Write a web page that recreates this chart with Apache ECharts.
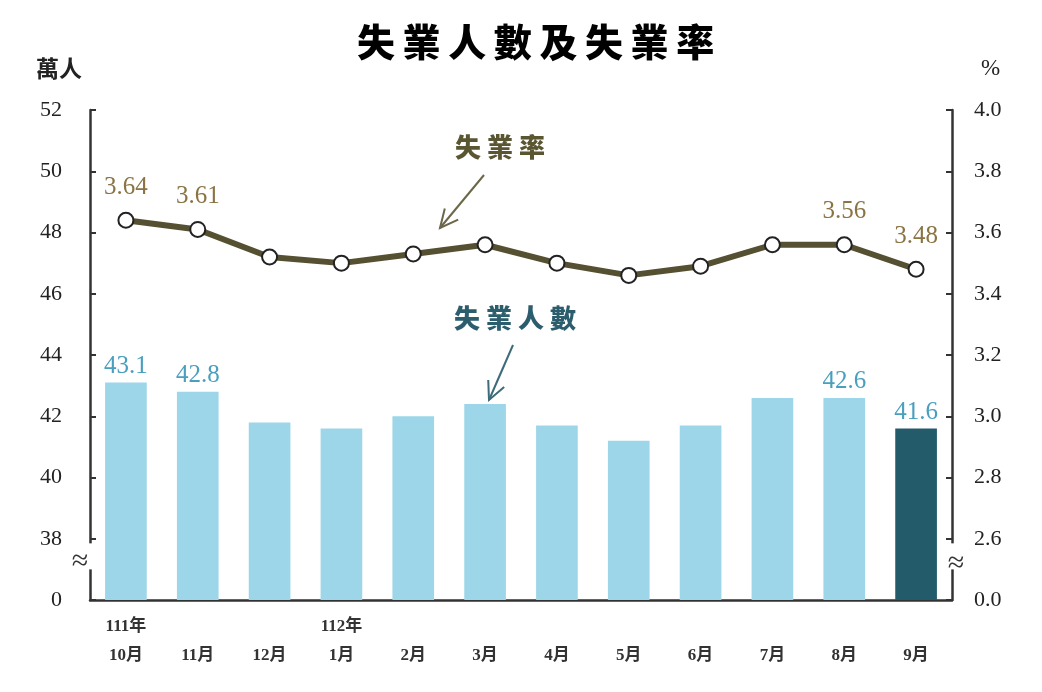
<!DOCTYPE html>
<html><head><meta charset="utf-8">
<script src="https://cdn.jsdelivr.net/npm/echarts@6/dist/echarts.min.js"></script>
<style>html,body{margin:0;padding:0;background:#fff}#c{width:1042px;height:692px}</style>
</head><body><div id="c"></div>
<script>
var years = ['111年','','','112年','','','','','','','',''];
var months = ['10月','11月','12月','1月','2月','3月','4月','5月','6月','7月','8月','9月'];
var unemployed = [43.1, 42.8, 41.8, 41.6, 42.0, 42.4, 41.7, 41.2, 41.7, 42.6, 42.6, 41.6];
var rate = [3.64, 3.61, 3.52, 3.50, 3.53, 3.56, 3.50, 3.46, 3.49, 3.56, 3.56, 3.48];
var labelIdx = [0, 1, 10, 11];
var leftTicks = ['0','38','40','42','44','46','48','50','52'];
var rightTicks = ['0.0','2.6','2.8','3.0','3.2','3.4','3.6','3.8','4.0'];

var serif = '"Liberation Serif","Noto Sans CJK TC",serif';
var cats = months.map(function(m, i){ return '{y|' + (years[i] || ' ') + '}\n{m|' + m + '}'; });

var chart = echarts.init(document.getElementById('c'));
var barData = unemployed.map(function(v, i){
  return {value: v, itemStyle: {color: i === unemployed.length - 1 ? '#245b6b' : '#9dd6e9'},
    label: {show: labelIdx.indexOf(i) >= 0}};
});
var lineData = rate.map(function(v, i){ return {value: v, label: {show: labelIdx.indexOf(i) >= 0}}; });

var option = {
  animation: false,
  title: {text: '失\u2009業\u2009人\u2009數\u2009及\u2009失\u2009業\u2009率', left: 352, top: 18,
    textStyle: {fontFamily: '"Noto Sans CJK TC"', fontWeight: 900, fontSize: 38, color: '#000'}},
  grid: {left: 90, right: 90, top: 110, bottom: 92},
  xAxis: {type: 'category', data: cats,
    axisLine: {lineStyle: {color: '#333', width: 2.5}},
    axisTick: {inside: true, length: 6, lineStyle: {color: '#333', width: 2}},
    axisLabel: {margin: 12, interval: 0, lineHeight: 30,
      rich: {y: {fontFamily: serif, fontSize: 17, fontWeight: 'bold', color: '#333', lineHeight: 29},
             m: {fontFamily: serif, fontSize: 17, fontWeight: 'bold', color: '#333', lineHeight: 29}}}
  },
  yAxis: [
    {type: 'value', min: 36, max: 52, interval: 2, name: '萬人', nameLocation: 'end', nameGap: 30,
      nameTextStyle: {fontFamily: '"Noto Sans CJK TC"', fontSize: 23, fontWeight: 'bold', color: '#222', align: 'right', padding: [0, 8, 0, 0]},
      splitLine: {show: false},
      axisLine: {show: true, lineStyle: {color: '#333', width: 2.5}},
      axisTick: {show: true, inside: true, length: 6, lineStyle: {color: '#333', width: 2}},
      axisLabel: {margin: 28, fontFamily: serif, fontSize: 22, color: '#222',
        formatter: function(v){ return leftTicks[Math.round((v - 36) / 2)]; }}
    },
    {type: 'value', min: 2.4, max: 4.0, interval: 0.2, name: '%', nameLocation: 'end', nameGap: 30,
      nameTextStyle: {fontFamily: serif, fontSize: 23, color: '#222', align: 'left', padding: [0, 0, 0, 29]},
      splitLine: {show: false},
      axisLine: {show: true, lineStyle: {color: '#333', width: 2.5}},
      axisTick: {show: true, inside: true, length: 6, lineStyle: {color: '#333', width: 2}},
      axisLabel: {margin: 22, fontFamily: serif, fontSize: 22, color: '#222',
        formatter: function(v){ return rightTicks[Math.round((v - 2.4) / 0.2)]; }}
    }
  ],
  series: [
    {type: 'bar', yAxisIndex: 0, data: barData, barWidth: '58%',
      label: {position: 'top', distance: 4, fontFamily: serif, fontSize: 25, color: '#4a9fbf'}},
    {type: 'line', yAxisIndex: 1, data: lineData, z: 5,
      lineStyle: {color: '#545031', width: 6},
      symbol: 'circle', symbolSize: 15,
      itemStyle: {color: '#fff', borderColor: '#222', borderWidth: 2},
      label: {position: 'top', distance: 12, fontFamily: serif, fontSize: 25, color: '#8a7444'}}
  ]
};
chart.setOption(option);

function arrow(x1, y1, x2, y2, color){
  var ang = Math.atan2(y1 - y2, x1 - x2), L = 20, a = 0.45;
  return [
    {type: 'line', shape: {x1: x1, y1: y1, x2: x2, y2: y2}, style: {stroke: color, lineWidth: 2}, z: 100},
    {type: 'polyline', shape: {points: [[x2 + L * Math.cos(ang + a), y2 + L * Math.sin(ang + a)], [x2, y2], [x2 + L * Math.cos(ang - a), y2 + L * Math.sin(ang - a)]]},
      style: {stroke: color, lineWidth: 2, fill: null}, z: 100}
  ];
}
var yTop = chart.convertToPixel({yAxisIndex: 0}, 37.85);
var yBot = chart.convertToPixel({yAxisIndex: 0}, 37.0);
var yMid = (yTop + yBot) / 2;
var gl = 90, gr = 1042 - 90;
var g = [
  {type: 'rect', shape: {x: gl - 4, y: yTop, width: 8, height: yBot - yTop}, style: {fill: '#fff'}, z: 100},
  {type: 'rect', shape: {x: gr - 4, y: yTop, width: 8, height: yBot - yTop}, style: {fill: '#fff'}, z: 100},
  {type: 'text', x: gl - 10, y: yMid + 6, style: {text: '≈', fontSize: 30, fontFamily: serif, fill: '#333', align: 'center', verticalAlign: 'middle'}, z: 101},
  {type: 'text', x: gr + 4, y: yMid + 8, style: {text: '≈', fontSize: 30, fontFamily: serif, fill: '#333', align: 'center', verticalAlign: 'middle'}, z: 101},
  {type: 'text', x: 500, y: 147, style: {text: '失 業 率', fontSize: 26, fontWeight: 900, fontFamily: '"Noto Sans CJK TC"', fill: '#5b5632', align: 'center', verticalAlign: 'middle'}, z: 101},
  {type: 'text', x: 515, y: 318, style: {text: '失 業 人 數', fontSize: 26, fontWeight: 900, fontFamily: '"Noto Sans CJK TC"', fill: '#2b5d6d', align: 'center', verticalAlign: 'middle'}, z: 101}
].concat(arrow(484, 175, 440, 228, '#6b6748')).concat(arrow(513, 345, 489, 400, '#3d6b7a'));
chart.setOption({graphic: g});
</script></body></html>
